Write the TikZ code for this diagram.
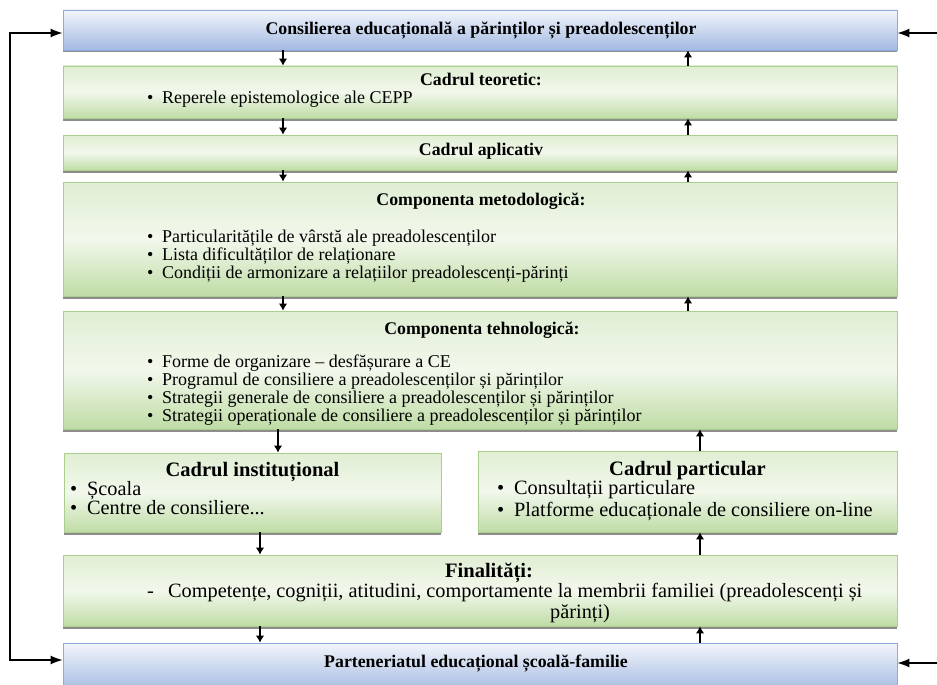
\documentclass[tikz,border=0pt]{standalone}
\usepackage{fontspec}
\setmainfont{Liberation Serif}
\usetikzlibrary{arrows.meta}
\usetikzlibrary{shadows}
\definecolor{grtop}{HTML}{E0EED3}
\definecolor{grmid}{HTML}{F2F8EC}
\definecolor{grbot}{HTML}{BFDCA5}
\definecolor{grline}{HTML}{A9CF8D}
\definecolor{bltop}{HTML}{F3F5FB}
\definecolor{blbot}{HTML}{A3BAE2}
\definecolor{blline}{HTML}{8EAADB}
\newcommand{\itm}[1]{\makebox[15pt][l]{\textbullet}#1}
\newcommand{\bigitm}[1]{\makebox[17pt][l]{\textbullet}#1}

\begin{document}
\begin{tikzpicture}[x=1pt,y=-1pt,
  box/.style={line width=0.8pt, minimum width=834pt, inner sep=0pt,
    drop shadow={shadow xshift=0pt, shadow yshift=-2.5pt, fill=black, opacity=0.45}},
  gbox/.style={box, draw=grline, top color=grtop, bottom color=grbot, middle color=grmid},
  bbox/.style={box, draw=blline, top color=bltop, bottom color=blbot},
  ttl/.style={anchor=base, inner sep=0pt, font=\fontsize{17.8}{20}\selectfont\bfseries},
  bigttl/.style={anchor=base, inner sep=0pt, font=\fontsize{20.5}{24}\selectfont\bfseries},
  item/.style={anchor=base west, inner sep=0pt, font=\fontsize{18}{20}\selectfont},
  bigitem/.style={anchor=base west, inner sep=0pt, font=\fontsize{20.3}{24}\selectfont},
  arr/.style={line width=1.6pt, -{Latex[length=7pt,width=8.5pt]}},
  side/.style={line width=1.4pt, {Latex[length=12pt,width=9pt]}-{Latex[length=12pt,width=9pt]}},
  sidein/.style={line width=1.4pt, -{Latex[length=12pt,width=9pt]}}]
\useasboundingbox (0,0) rectangle (937,685);

% boxes
\node[bbox, minimum height=40pt] (cepp) at (480,30) {};
\node[gbox, minimum height=52pt] (teor) at (480,92) {};
\node[gbox, minimum height=35pt] (aplic) at (480,152.5) {};
\node[gbox, minimum height=114pt] (metod) at (480,239) {};
\node[gbox, minimum height=118pt] (tehn) at (480,370) {};
\node[gbox, minimum width=377pt, minimum height=79pt] (inst) at (252.5,492.5) {};
\node[gbox, minimum width=419pt, minimum height=81pt] (part) at (687.5,491.5) {};
\node[gbox, minimum height=71pt] (fin) at (480,590.5) {};
\node[bbox, minimum height=49pt] (pec) at (480,667.5) {};

% titles
\node[ttl] (tcepp) at (481,35) {Consilierea educațională a părinților și preadolescenților};
\node[ttl] (tteor) at (481,85) {Cadrul teoretic:};
\node[ttl] (taplic) at (481,155) {Cadrul aplicativ};
\node[ttl] (tmetod) at (481,205) {Componenta metodologică:};
\node[ttl] (ttehn) at (482,334) {Componenta tehnologică:};
\node[bigttl] (tinst) at (252.5,476) {Cadrul instituțional};
\node[bigttl] (tpart) at (687.5,475) {Cadrul particular};
\node[bigttl] (tfin) at (489,577) {Finalități:};
\node[ttl] (tpec) at (476,667) {Parteneriatul educațional școală-familie};

% lists
\node[item] (teor1) at (147,103) {\itm{Reperele epistemologice ale CEPP}};
\foreach \t [count=\i] in {Particularitățile de vârstă ale preadolescenților,
    Lista dificultăților de relaționare,
    Condiții de armonizare a relațiilor preadolescenți-părinți}
  \node[item] (metod\i) at (147,{224+18*\i}) {\itm{\t}};
\foreach \t [count=\i] in {Forme de organizare – desfășurare a CE,
    Programul de consiliere a preadolescenților și părinților,
    Strategii generale de consiliere a preadolescenților și părinților,
    Strategii operaționale de consiliere a preadolescenților și părinților}
  \node[item] (tehn\i) at (147,{349+18*\i}) {\itm{\t}};
\node[bigitem] (inst1) at (70,495) {\bigitm{Școala}};
\node[bigitem] (inst2) at (70,514.5) {\bigitm{Centre de consiliere...}};
\node[bigitem] (part1) at (497,494.5) {\bigitm{Consultații particulare}};
\node[bigitem] (part2) at (497,516) {\bigitm{Platforme educaționale de consiliere on-line}};
\node[bigitem] (fin1) at (147,597) {\makebox[21pt][l]{-}Competențe, cogniții, atitudini, comportamente la membrii familiei (preadolescenți și};
\node[bigitem] (fin2) at (550,618) {părinți)};

% arrows between boxes
\coordinate (dn) at (283,0);
\coordinate (up) at (688,0);
\coordinate (dn1) at (278,0);
\coordinate (dn2) at (260,0);
\coordinate (up2) at (700,0);
\foreach \a/\b in {cepp/teor, teor/aplic, aplic/metod, metod/tehn} {
  \draw[arr] (\a.south -| dn) -- (\b.north -| dn);
  \draw[arr] (\b.north -| up) -- (\a.south -| up);
}
\draw[arr] (tehn.south -| dn1) -- (inst.north -| dn1);
\draw[arr] (part.north -| up2) -- (tehn.south -| up2);
\draw[arr] (inst.south -| dn2) -- (fin.north -| dn2);
\draw[arr] (fin.north -| up2) -- (part.south -| up2);
\draw[arr] (fin.south -| dn2) -- (pec.north -| dn2);
\draw[arr] (pec.north -| up2) -- (fin.south -| up2);

% loop on the sides
\coordinate (lt) at (10,33);
\coordinate (lb) at (10,660);
\coordinate (rt) at (940,33);
\coordinate (rb) at (940,663);
\draw[side] (cepp.west |- lt) -- (lt) -- (lb) -- (pec.west |- lb);
\draw[sidein] (rt) -- (cepp.east |- rt);
\draw[sidein] (rb) -- (pec.east |- rb);
\end{tikzpicture}
\end{document}
